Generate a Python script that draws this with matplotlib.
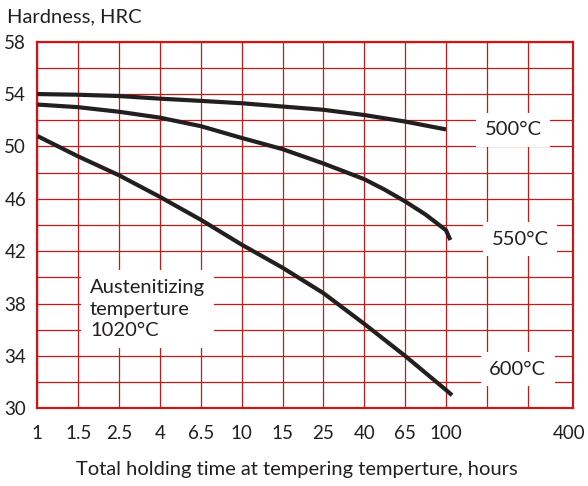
import matplotlib.pyplot as plt
import numpy as np

plt.rcParams['font.family'] = ['Lato', 'DejaVu Sans']

# data (x = hours, y = HRC)
hours = [1, 1.58, 2.51, 3.98, 6.31, 10, 15.8, 25.1, 39.8, 63.1, 100]
hrc_500 = [54.0, 53.95, 53.85, 53.65, 53.48, 53.3, 53.05, 52.8, 52.4, 51.9, 51.3]

hours_550 = [1, 1.58, 2.51, 3.98, 6.31, 10, 15.8, 25.1, 39.8, 50.1, 63.1, 79.4, 100, 105]
hrc_550 = [53.2, 53.0, 52.65, 52.2, 51.55, 50.65, 49.8, 48.7, 47.5, 46.7, 45.8, 44.8, 43.6, 42.85]

hours_600 = [1, 1.58, 2.51, 3.98, 6.31, 10, 15.8, 25.1, 39.8, 63.1, 100, 107]
hrc_600 = [50.8, 49.25, 47.8, 46.15, 44.4, 42.5, 40.75, 38.8, 36.45, 34.0, 31.4, 31.0]

tick_pos = [10 ** (0.2 * k) for k in range(11)] + [400]
tick_labels = ['1', '1.5', '2.5', '4', '6.5', '10', '15', '25', '40', '65', '100', '400']
grid_x = [10 ** (0.2 * k) for k in range(13)]
yticks = [30, 34, 38, 42, 46, 50, 54, 58]

red = '#c41a1a'
ink = '#231f20'

fig = plt.figure(figsize=(5.88, 4.86), dpi=100)
ax = fig.add_axes([0.0634, 0.1599, 0.9106, 0.7543])

ax.set_xscale('log')
ax.set_xlim(1, 10 ** 2.62)
ax.set_ylim(30, 58)

# grid
for gx in grid_x:
    ax.axvline(gx, color=red, lw=0.9, zorder=1)
for gy in range(30, 59, 2):
    ax.axhline(gy, color=red, lw=0.9, zorder=1)

for s in ax.spines.values():
    s.set_color(red)
    s.set_linewidth(1.6)

# curves
for xs, ys in [(hours, hrc_500), (hours_550, hrc_550), (hours_600, hrc_600)]:
    ax.plot(xs, ys, color=ink, lw=3.0, solid_capstyle='butt', solid_joinstyle='round', zorder=4)

box = dict(facecolor='white', edgecolor='none', boxstyle='square,pad=0.42')
fs = 13.5
fw = 14.5
ax.text(213, 51.26, '500°C', ha='center', va='center', fontsize=fw, color=ink, bbox=box, zorder=5)
ax.text(230, 42.93, '550°C', ha='center', va='center', fontsize=fw, color=ink, bbox=box, zorder=5)
ax.text(224, 33.0, '600°C', ha='center', va='center', fontsize=fw, color=ink, bbox=box, zorder=5)
ax.text(1.81, 37.57, 'Austenitizing\ntemperture\n1020°C', ha='left', va='center',
        fontsize=fw, color=ink, linespacing=1.3,
        bbox=dict(facecolor='white', edgecolor='none', boxstyle='square,pad=0.45'), zorder=5)

ax.set_xticks(tick_pos)
ax.set_xticklabels(tick_labels)
ax.xaxis.set_minor_locator(plt.NullLocator())
ax.set_yticks(yticks)
ax.tick_params(length=0, labelsize=fs, colors=ink, pad=8)
ax.tick_params(axis='x', pad=12)

fig.text(0.012, 0.965, 'Hardness, HRC', fontsize=fw, color=ink, ha='left', va='center')
fig.text(0.505, 0.033, 'Total holding time at tempering temperture, hours', fontsize=fw,
         color=ink, ha='center', va='center')

fig.savefig('out.png', dpi=100)
